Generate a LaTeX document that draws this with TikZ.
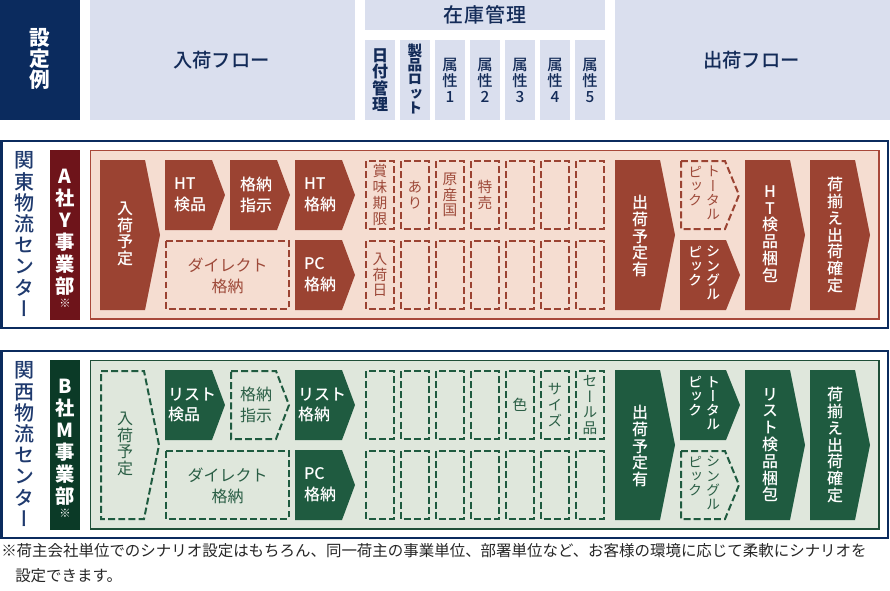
\documentclass[tikz,border=0pt]{standalone}
\usepackage{fontspec}
\setmainfont{Noto Sans CJK JP}
\newfontfamily\vjp[RawFeature=+vert]{Noto Sans CJK JP}
\newfontfamily\jpm{Noto Sans CJK JP Medium}
\newfontfamily\vjpm[RawFeature=+vert]{Noto Sans CJK JP Medium}
\definecolor{navy}{HTML}{0B2B5E}
\definecolor{hdr}{HTML}{DADFEE}
\definecolor{hdrtext}{HTML}{132B58}
\definecolor{lbl}{HTML}{1F3A6E}
\definecolor{aSolid}{HTML}{9B4332}
\definecolor{aDark}{HTML}{6E141A}
\definecolor{aFill}{HTML}{F5DDD1}
\definecolor{aLine}{HTML}{A8483A}
\definecolor{aText}{HTML}{9E4A3A}
\definecolor{gSolid}{HTML}{1F5B40}
\definecolor{gDark}{HTML}{0B3A27}
\definecolor{gFill}{HTML}{DFE7DC}
\definecolor{gLine}{HTML}{1F4F38}
\definecolor{gText}{HTML}{2A5E45}
\newcommand\pent[6]{\path[#1] (#2,#3) -- ++({#4-#6},0) -- ++(#6,{#5/2}) -- ++({-#6},{#5/2}) -- ++({#6-#4},0) -- cycle;}
\tikzset{
  dashbase/.style={line width=1.5pt, dash pattern=on 5.2pt off 2.4pt},
  solidA/.style={fill=aSolid},
  dashA/.style={dashbase, draw=aSolid},
  solidG/.style={fill=gSolid},
  dashG/.style={dashbase, draw=gSolid},
  vtall/.style={align=center, inner sep=0pt, font=\vjpm\fontsize{12}{12.6}\selectfont},
  vtalld/.style={align=center, inner sep=0pt, font=\vjp\fontsize{12}{12.6}\selectfont},
  vcell/.style={align=center, inner sep=0pt, font=\vjp\fontsize{11}{11.8}\selectfont},
  vpick/.style={align=center, inner sep=0pt, anchor=north, font=\vjp\fontsize{10.5}{10.6}\selectfont},
  vpickw/.style={vpick, font=\vjpm\fontsize{10.5}{10.6}\selectfont},
  hlab/.style={align=left, inner sep=0pt, font=\jpm\fontsize{12}{15.5}\selectfont},
  hlabd/.style={align=left, inner sep=0pt, font=\fontsize{12}{15.5}\selectfont},
  hlabc/.style={align=center, inner sep=0pt, font=\fontsize{12}{16}\selectfont},
  sectlbl/.style={align=center, inner sep=0pt, text=lbl, font=\vjpm\fontsize{15}{15.9}\selectfont},
  complbl/.style={align=center, inner sep=0pt, text=white, font=\vjp\bfseries\fontsize{14.5}{16.5}\selectfont},
  hdrv/.style={align=center, inner sep=0pt, text=hdrtext, font=\vjpm\fontsize{11.5}{12}\selectfont},
  hdrh/.style={inner sep=0pt, text=hdrtext, font=\jpm\fontsize{14.5}{15}\selectfont},
}
\begin{document}
\begin{tikzpicture}[x=0.75pt, y=-0.75pt]
\useasboundingbox (0,0) rectangle (890,590);
\fill[white] (0,0) rectangle (890,590);

% ---------------- header ----------------
\fill[navy] (0,0) rectangle (80,120);
\node[align=center, inner sep=0pt, text=white, font=\bfseries\fontsize{15.5}{16}\selectfont] (settei) at (40,59) {設\\定\\例};
\fill[hdr] (90,0) rectangle (355,120);
\node[hdrh] (nyuka) at (221.5,60) {入荷フロー};
\fill[hdr] (365,0) rectangle (605,30);
\node[hdrh, font=\jpm\fontsize{15}{15}\selectfont] (zaiko) at (485,15) {在\kern0.6pt 庫\kern0.6pt 管\kern0.6pt 理};
\foreach \i in {0,...,6} { \fill[hdr] ({365+35*\i},40) rectangle ({395+35*\i},120); }
\node[hdrv, font=\vjp\bfseries\fontsize{12}{12.4}\selectfont] (c1) at (380,80) {日\\付\\管\\理};
\node[hdrv, font=\vjp\bfseries\fontsize{11}{10.8}\selectfont] (c2) at (415,79) {製\\品\\ロ\\ッ\\ト};
\node[hdrv] (c3) at (450,80) {属\\性\\1};
\node[hdrv] (c4) at (485,80) {属\\性\\2};
\node[hdrv] (c5) at (520,80) {属\\性\\3};
\node[hdrv] (c6) at (555,80) {属\\性\\4};
\node[hdrv] (c7) at (590,80) {属\\性\\5};
\fill[hdr] (615,0) rectangle (890,120);
\node[hdrh] (shukka) at (751.5,60) {出荷フロー};

% ---------------- section A ----------------
\draw[navy, line width=1.6pt] (1.5,141) rectangle (888,328);
\node[sectlbl] (kanto) at (25,234) {関\\東\\物\\流\\セ\\ン\\タ\\ー};
\fill[aDark] (50,150) rectangle (80,320);
\node[complbl] (acomp) at (65,232) {A\\社\\Y\\事\\業\\部};
\node[inner sep=0pt, text=white, font=\fontsize{8.5}{8.5}\selectfont] (anote) at (65,303) {※};
\filldraw[fill=aFill, draw=aLine, line width=0.8pt] (90.5,150.5) rectangle (879,319);

\pent{solidA}{100}{160}{60}{150}{15}
\node[vtall, text=white] (a1) at (125,234) {入\\荷\\予\\定};
\pent{solidA}{165}{160}{60}{70}{13}
\node[hlab, text=white] (a2) at (190,195) {HT\\検品};
\pent{solidA}{230}{160}{60}{70}{13}
\node[hlab, text=white] (a3) at (256,195) {格納\\指示};
\pent{solidA}{295}{160}{60}{70}{13}
\node[hlab, text=white] (a4) at (320,195) {HT\\格納};
\draw[dashA] (166,241) rectangle (289,309);
\node[hlabc, text=aText] (a5) at (227.5,276) {ダイレクト\\格納};
\pent{solidA}{295}{240}{60}{70}{13}
\node[hlab, text=white] (a6) at (320,275) {PC\\格納};
\foreach \i in {0,...,6} {
  \draw[dashA] ({366+35*\i},161) rectangle ({394+35*\i},229);
  \draw[dashA] ({366+35*\i},241) rectangle ({394+35*\i},309);
}
\node[vcell, text=aText] (ac1) at (380,195) {賞\\味\\期\\限};
\node[vcell, text=aText] (ac2) at (415,195) {あ\\り};
\node[vcell, text=aText] (ac3) at (450,195) {原\\産\\国};
\node[vcell, text=aText] (ac4) at (485,195) {特\\売};
\node[vcell, text=aText] (ac5) at (380,275) {入\\荷\\日};

\pent{solidA}{615}{160}{60}{150}{15}
\node[vtall, text=white] (a7) at (640,236) {出\\荷\\予\\定\\有};
\pent{dashA}{681}{161}{58}{68}{14}
\node[vpick, text=aText] (a8r) at (713,166) {ト\\ー\\タ\\ル};
\node[vpick, text=aText] (a8l) at (695,166) {ピ\\ッ\\ク};
\pent{solidA}{680}{240}{60}{70}{14}
\node[vpickw, text=white] (a9r) at (713,246) {シ\\ン\\グ\\ル};
\node[vpickw, text=white] (a9l) at (695,246) {ピ\\ッ\\ク};
\pent{solidA}{745}{160}{60}{150}{15}
\node[vtall, text=white] (a10) at (770,234) {H\\T\\検\\品\\梱\\包};
\pent{solidA}{810}{160}{60}{150}{15}
\node[vtall, text=white] (a11) at (835,235) {荷\\揃\\え\\出\\荷\\確\\定};

% ---------------- section B ----------------
\begin{scope}[shift={(0,210)}]
\draw[navy, line width=1.6pt] (1.5,141) rectangle (888,328);
\node[sectlbl] (kansai) at (25,234) {関\\西\\物\\流\\セ\\ン\\タ\\ー};
\fill[gDark] (50,150) rectangle (80,320);
\node[complbl] (bcomp) at (65,232) {B\\社\\M\\事\\業\\部};
\node[inner sep=0pt, text=white, font=\fontsize{8.5}{8.5}\selectfont] (bnote) at (65,303) {※};
\filldraw[fill=gFill, draw=gLine, line width=0.8pt] (90.5,150.5) rectangle (879,319);

\pent{dashG}{101}{161}{58}{148}{15}
\node[vtalld, text=gText] (b1) at (125,234) {入\\荷\\予\\定};
\pent{solidG}{165}{160}{60}{70}{13}
\node[hlab, text=white] (b2) at (192,195) {リスト\\検品};
\pent{dashG}{231}{161}{58}{68}{13}
\node[hlabd, text=gText] (b3) at (256,195) {格納\\指示};
\pent{solidG}{295}{160}{60}{70}{13}
\node[hlab, text=white] (b4) at (322,195) {リスト\\格納};
\draw[dashG] (166,241) rectangle (289,309);
\node[hlabc, text=gText] (b5) at (227.5,276) {ダイレクト\\格納};
\pent{solidG}{295}{240}{60}{70}{13}
\node[hlab, text=white] (b6) at (320,275) {PC\\格納};
\foreach \i in {0,...,6} {
  \draw[dashG] ({366+35*\i},161) rectangle ({394+35*\i},229);
  \draw[dashG] ({366+35*\i},241) rectangle ({394+35*\i},309);
}
\node[vcell, text=gText] (bc1) at (520,195) {色};
\node[vcell, text=gText] (bc2) at (555,195) {サ\\イ\\ズ};
\node[vcell, text=gText] (bc3) at (590,195) {セ\\ー\\ル\\品};

\pent{solidG}{615}{160}{60}{150}{15}
\node[vtall, text=white] (b7) at (640,236) {出\\荷\\予\\定\\有};
\pent{solidG}{680}{160}{60}{70}{14}
\node[vpickw, text=white] (b8r) at (713,166) {ト\\ー\\タ\\ル};
\node[vpickw, text=white] (b8l) at (695,166) {ピ\\ッ\\ク};
\pent{dashG}{681}{241}{58}{68}{14}
\node[vpick, text=gText] (b9r) at (713,246) {シ\\ン\\グ\\ル};
\node[vpick, text=gText] (b9l) at (695,246) {ピ\\ッ\\ク};
\pent{solidG}{745}{160}{60}{150}{15}
\node[vtall, text=white] (b10) at (770,235) {リ\\ス\\ト\\検\\品\\梱\\包};
\pent{solidG}{810}{160}{60}{150}{15}
\node[vtall, text=white] (b11) at (835,235) {荷\\揃\\え\\出\\荷\\確\\定};
\end{scope}

% ---------------- footnote ----------------
\node[anchor=west, inner sep=0pt, text=black!85, font=\fontsize{11.6}{14}\selectfont] (fn1) at (1,551) {※荷主会社単位でのシナリオ設定はもちろん、同一荷主の事業単位、部署単位など、お客様の環境に応じて柔軟にシナリオを};
\node[anchor=west, inner sep=0pt, text=black!85, font=\fontsize{11.6}{14}\selectfont] (fn2) at (15,576) {設定できます。};
\end{tikzpicture}
\end{document}
